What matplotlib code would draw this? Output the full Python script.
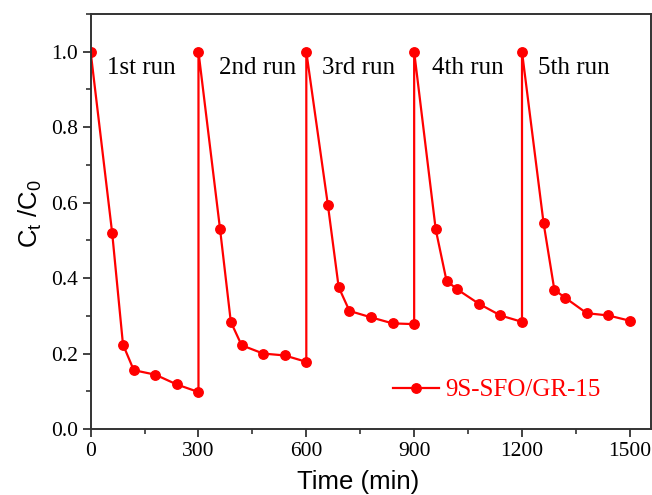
import matplotlib
matplotlib.use("Agg")
import matplotlib.pyplot as plt
from matplotlib.ticker import MultipleLocator, FormatStrFormatter

time = [0, 60, 90, 120, 180, 240, 300,
        300, 360, 390, 420, 480, 540, 600,
        600, 660, 690, 720, 780, 840, 900,
        900, 960, 990, 1020, 1080, 1140, 1200,
        1200, 1260, 1290, 1320, 1380, 1440, 1500]
ratio = [1.0, 0.519, 0.224, 0.156, 0.144, 0.118, 0.098,
         1.0, 0.530, 0.284, 0.222, 0.200, 0.195, 0.178,
         1.0, 0.594, 0.376, 0.313, 0.296, 0.280, 0.278,
         1.0, 0.529, 0.393, 0.370, 0.332, 0.301, 0.284,
         1.0, 0.546, 0.369, 0.348, 0.307, 0.301, 0.287]
run_labels = ["1st run", "2nd run", "3rd run", "4th run", "5th run"]
run_label_x = [45, 357, 644, 950, 1245]
series_name = "9S-SFO/GR-15"

serif = ["Liberation Serif", "DejaVu Serif"]
sans = ["Liberation Sans", "DejaVu Sans"]

fig = plt.figure(figsize=(6.52, 4.95), dpi=100)
ax = fig.add_axes([0.139, 0.1333, 0.859, 0.8384])

ax.plot(time, ratio, color="#ff0000", lw=1.6, marker="o", ms=6.8,
        label=series_name)

ax.set_xlim(0, 1558)
ax.set_ylim(0, 1.1)
ax.xaxis.set_major_locator(MultipleLocator(300))
ax.xaxis.set_minor_locator(MultipleLocator(150))
ax.yaxis.set_major_locator(MultipleLocator(0.2))
ax.yaxis.set_minor_locator(MultipleLocator(0.1))
ax.yaxis.set_major_formatter(FormatStrFormatter("%.1f"))

for s in ax.spines.values():
    s.set_linewidth(1.4)
    s.set_color("#333333")
ax.tick_params(which="major", direction="out", length=6, width=1.3,
               color="#333333", labelsize=15.5, top=False, right=False, pad=3)
ax.tick_params(which="minor", direction="out", length=3.5, width=1.2,
               color="#333333", top=False, right=False)
for lab in ax.get_xticklabels() + ax.get_yticklabels():
    lab.set_family(serif)

for lbl, x in zip(run_labels, run_label_x):
    ax.text(x, 0.941, lbl, family=serif, fontsize=18, ha="left", va="baseline")

ax.set_xlabel("Time (min)", family=sans, fontsize=18.5)
ax.xaxis.label.set_va("center")
ax.xaxis.set_label_coords(0.477, -0.127)
ax.set_ylabel(r"C$_\mathregular{t}$ /C$_\mathregular{0}$", family=sans,
              fontsize=18.5)
ax.yaxis.label.set_va("center")
ax.yaxis.set_label_coords(-0.108, 0.52)

leg = ax.legend(loc="center left", bbox_to_anchor=(0.54, 0.094), frameon=False,
                prop={"family": serif, "size": 18}, handlelength=1.84,
                handletextpad=0.24, borderpad=0, borderaxespad=0)
for t in leg.get_texts():
    t.set_color("#ff0000")

fig.savefig("out.png", dpi=100)
